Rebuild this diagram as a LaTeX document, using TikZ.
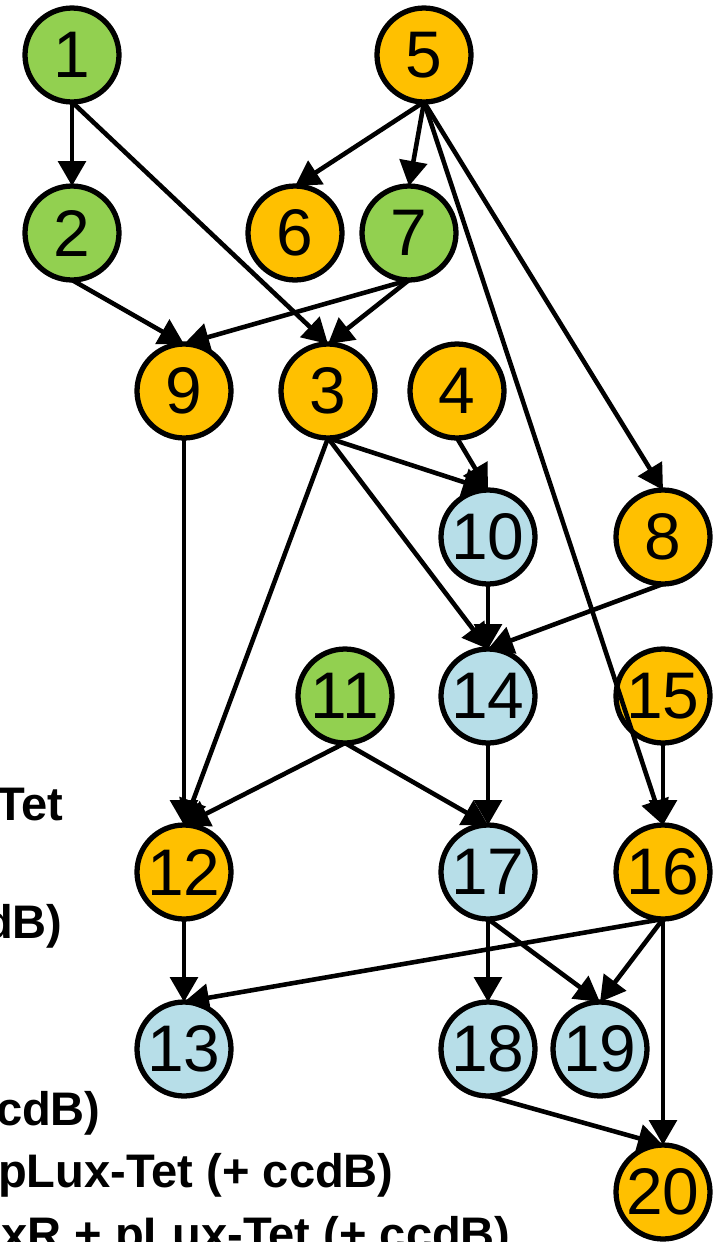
\documentclass[tikz,border=0pt]{standalone}
\usepackage{fontspec}
\setmainfont{Liberation Sans}
\usetikzlibrary{arrows.meta}
\definecolor{cgreen}{HTML}{92D050}
\definecolor{corange}{HTML}{FFC000}
\definecolor{cblue}{HTML}{B7DEE8}
\tikzset{
  vtx/.style={circle, draw=black, line width=3pt, minimum size=1.88cm, inner sep=0pt, outer sep=0pt, font=\fontsize{37.5pt}{40pt}\selectfont},
  gvtx/.style={vtx, fill=cgreen},
  ovtx/.style={vtx, fill=corange},
  bvtx/.style={vtx, fill=cblue},
  edge/.style={line width=2.6pt, -{Triangle[length=0.5cm, width=0.55cm]}},
  legend/.style={anchor=base east, inner sep=0pt, font=\fontsize{26.8pt}{30pt}\selectfont\bfseries}
}
\begin{document}
\begin{tikzpicture}[x=0.02cm, y=-0.02cm]
\useasboundingbox (0,0) rectangle (723,1242);
\clip (0,0) rectangle (723,1242);
% legend fragments (cut at the left edge, as in the reference)
\node[legend] (t1) at (64,820) {Tet};
\node[legend] (t2) at (63,938) {dB)};
\node[legend] (t3) at (101,1125) {cdB)};
\node[legend] (t4) at (394,1187) {pLux-Tet (+ ccdB)};
\node[legend] (t5) at (511,1250) {xR + pLux-Tet (+ ccdB)};
% nodes
\node[gvtx] (n1) at (72,55) {1};
\node[gvtx] (n2) at (72,233) {2};
\node[ovtx] (n5) at (424,55) {5};
\node[ovtx] (n6) at (295,233) {6};
\node[gvtx] (n7) at (409,233) {7};
\node[ovtx] (n9) at (184,391) {9};
\node[ovtx] (n3) at (328,391) {3};
\node[ovtx] (n4) at (457,391) {4};
\node[bvtx] (n10) at (488,537) {10};
\node[ovtx] (n8) at (663,537) {8};
\node[gvtx] (n11) at (345,696) {11};
\node[bvtx] (n14) at (488,696) {14};
\node[ovtx] (n15) at (663,696) {15};
\node[ovtx] (n12) at (184,872) {12};
\node[bvtx] (n17) at (488,872) {17};
\node[ovtx] (n16) at (663,872) {16};
\node[bvtx] (n13) at (184,1049) {13};
\node[bvtx] (n18) at (488,1049) {18};
\node[bvtx] (n19) at (600,1049) {19};
\node[ovtx] (n20) at (663,1192) {20};
% edges
\foreach \a/\b in {1/2,1/3,5/6,5/7,5/16,5/8,2/9,7/9,7/3,3/10,4/10,3/14,3/12,9/12,10/14,8/14,11/12,11/17,14/17,15/16,12/13,16/13,17/18,17/19,16/19,16/20,18/20}
  \draw[edge] (n\a.south) -- (n\b.north);
\end{tikzpicture}
\end{document}
